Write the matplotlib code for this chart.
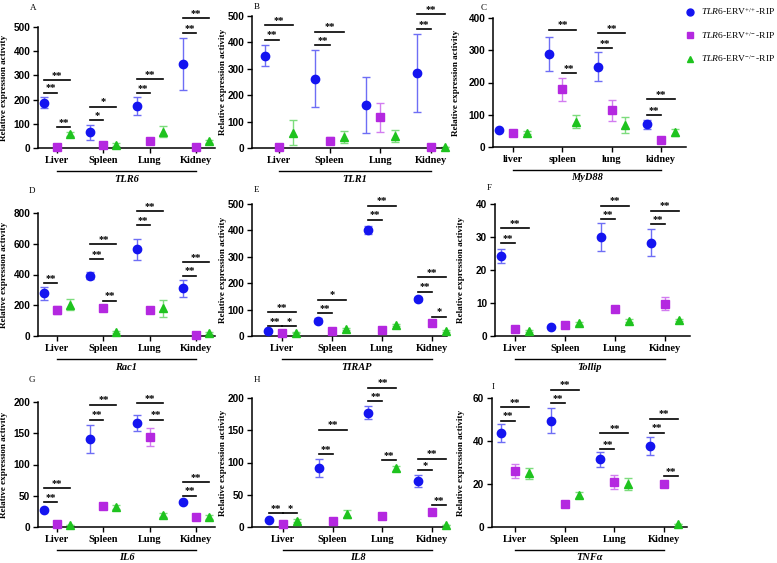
import matplotlib
matplotlib.use('Agg')
import matplotlib.pyplot as plt
from matplotlib.lines import Line2D
import matplotlib.transforms as mtransforms

plt.rcParams['font.family'] = ['Liberation Serif', 'DejaVu Serif']
plt.rcParams['mathtext.fontset'] = 'custom'
plt.rcParams['mathtext.rm'] = 'Liberation Serif'
plt.rcParams['mathtext.it'] = 'Liberation Serif:italic'
plt.rcParams['mathtext.bf'] = 'Liberation Serif:bold'

#%%
###### DATA #############################
cats = ['Liver', 'Spleen', 'Lung', 'Kidney']
cats_c = ['liver', 'spleen', 'lung', 'kidney']
cats_d = ['Liver', 'Spleen', 'Lung', 'Kindey']
groups = [r'$\mathit{TLR6}$-ERV$^{+/+}$-RIP',
          r'$\mathit{TLR6}$-ERV$^{+/-}$-RIP',
          r'$\mathit{TLR6}$-ERV$^{-/-}$-RIP']

# each gene: means [wt, het, ko], errors [wt, het, ko], significance (tissue, from, to, height, stars)
tlr6_mean = [[187, 65, 172, 348], [5, 12, 27, 5], [58, 14, 67, 27]]
tlr6_err = [[22, 30, 37, 107], [0, 0, 0, 0], [8, 7, 22, 7]]
tlr6_sig = [(0, 0, 1, 228, '**'), (0, 0, 2, 281, '**'), (0, 1, 2, 87, '**'),
            (1, 0, 1, 115, '*'), (1, 0, 2, 170, '*'),
            (2, 0, 1, 226, '**'), (2, 0, 2, 284, '**'),
            (3, 0, 1, 475, '**'), (3, 0, 2, 536, '**')]

tlr1_mean = [[350, 263, 163, 283], [3, 28, 117, 3], [58, 42, 45, 2]]
tlr1_err = [[41, 107, 107, 147], [0, 13, 55, 0], [47, 22, 22, 0]]
tlr1_sig = [(0, 0, 1, 410, '**'), (0, 0, 2, 465, '**'),
            (1, 0, 1, 390, '**'), (1, 0, 2, 440, '**'),
            (3, 0, 1, 450, '**'), (3, 0, 2, 507, '**')]

myd88_mean = [[54, 288, 249, 71], [44, 179, 114, 21], [44, 78, 68, 45]]
myd88_err = [[0, 52, 45, 14], [0, 35, 32, 0], [5, 20, 26, 10]]
myd88_sig = [(1, 0, 2, 364, '**'), (1, 1, 2, 229, '**'),
             (2, 0, 1, 306, '**'), (2, 0, 2, 353, '**'),
             (3, 0, 1, 99, '**'), (3, 0, 2, 149, '**')]

rac1_mean = [[277, 392, 564, 309], [168, 181, 170, 5], [203, 25, 181, 20]]
rac1_err = [[44, 24, 68, 58], [27, 15, 0, 0], [35, 8, 55, 8]]
rac1_sig = [(0, 0, 1, 344, '**'),
            (1, 0, 1, 501, '**'), (1, 0, 2, 599, '**'), (1, 1, 2, 229, '**'),
            (2, 0, 1, 719, '**'), (2, 0, 2, 810, '**'),
            (3, 0, 1, 392, '**'), (3, 0, 2, 479, '**')]

tirap_mean = [[19, 58, 400, 139], [10, 20, 23, 51], [13, 27, 42, 19]]
tirap_err = [[0, 10, 15, 8], [0, 0, 0, 0], [3, 5, 4, 4]]
tirap_sig = [(0, 0, 1, 38, '**'), (0, 0, 2, 90, '**'), (0, 1, 2, 38, '*'),
             (1, 0, 1, 86, '**'), (1, 0, 2, 137, '*'),
             (2, 0, 1, 440, '**'), (2, 0, 2, 494, '**'),
             (3, 0, 1, 168, '**'), (3, 0, 2, 222, '**'), (3, 1, 2, 73, '*')]

tollip_mean = [[24.2, 2.7, 30.0, 28.3], [2.0, 3.2, 8.2, 9.8], [1.5, 3.8, 4.6, 4.9]]
tollip_err = [[2.2, 0, 4.1, 4.0], [0, 0, 0, 1.9], [0.3, 0.5, 0.5, 0.4]]
tollip_sig = [(0, 0, 1, 28.2, '**'), (0, 0, 2, 32.6, '**'),
              (2, 0, 1, 35.4, '**'), (2, 0, 2, 39.5, '**'),
              (3, 0, 1, 33.9, '**'), (3, 0, 2, 38.0, '**')]

il6_mean = [[27, 141, 167, 40], [5, 34, 144, 16], [3, 32, 19, 16]]
il6_err = [[0, 22, 13, 0], [0, 0, 14, 0], [0, 3, 3, 3]]
il6_sig = [(0, 0, 1, 40, '**'), (0, 0, 2, 62, '**'),
           (1, 0, 1, 172, '**'), (1, 0, 2, 196, '**'),
           (2, 0, 2, 198, '**'), (2, 1, 2, 172, '**'),
           (3, 0, 1, 50, '**'), (3, 0, 2, 72, '**')]

il8_mean = [[11, 92, 177, 71], [4, 10, 17, 23], [10, 20, 91, 3]]
il8_err = [[0, 14, 10, 9], [0, 0, 0, 0], [2, 6, 4, 0]]
il8_sig = [(0, 0, 1, 21, '**'), (0, 1, 2, 21, '*'),
           (1, 0, 1, 113, '**'), (1, 0, 2, 151, '**'),
           (2, 0, 1, 195, '**'), (2, 0, 2, 216, '**'), (2, 1, 2, 104, '**'),
           (3, 0, 1, 88, '*'), (3, 0, 2, 106, '**'), (3, 1, 2, 34, '**')]

tnfa_mean = [[43.6, 49.5, 31.5, 37.7], [26.2, 10.9, 21.0, 20.2], [24.9, 14.8, 19.9, 1.6]]
tnfa_err = [[4.2, 5.8, 3.4, 4.0], [3.3, 1.0, 3.4, 1.0], [2.6, 1.5, 2.7, 0]]
tnfa_sig = [(0, 0, 1, 49.5, '**'), (0, 0, 2, 55.8, '**'),
            (1, 0, 1, 57.6, '**'), (1, 0, 2, 63.9, '**'),
            (2, 0, 1, 36.3, '**'), (2, 0, 2, 43.6, '**'),
            (3, 0, 1, 43.9, '**'), (3, 0, 2, 50.3, '**'), (3, 1, 2, 23.7, '**')]

#%%
###### STYLE #######
W, H = 777, 563
colors = ['#1414f0', '#b428e0', '#1ec31e']
ecolors = ['#6e6ef5', '#d27cf0', '#7ddc7d']
markers = ['o', 's', '^']
msizes = [6, 5.5, 5.5]
offsets = [-0.28, 0.0, 0.28]


def draw_panel(box, ticks_px, ylim, step, mean, err, sig, labels, gene, letter, letter_xy, ylab_x):
    left, right, top, bottom = box
    ax = fig.add_axes([left / W, 1 - bottom / H, (right - left) / W, (bottom - top) / H])
    k0, k3 = ticks_px
    s = (k3 - k0) / 3
    ax.set_xlim((left - k0) / s, (right - k0) / s)
    ax.set_ylim(0, ylim)

    for g in range(3):
        xs = [i + offsets[g] for i in range(4)]
        ax.errorbar(xs, mean[g], yerr=err[g], fmt='none', ecolor=ecolors[g],
                    elinewidth=1.0, capsize=3, capthick=1.0, zorder=2, clip_on=False)
        ax.plot(xs, mean[g], ls='none', marker=markers[g], ms=msizes[g],
                color=colors[g], zorder=3, clip_on=False)

    for t, a, b, y, lab in sig:
        ax.plot([t + offsets[a], t + offsets[b]], [y, y], color='black', lw=1.2, clip_on=False)
        ax.annotate(lab, ((t + offsets[a] + t + offsets[b]) / 2, y), xytext=(0, 3.5),
                    textcoords='offset points', ha='center', va='center',
                    fontsize=7.5, fontweight='bold', annotation_clip=False)

    ax.spines['top'].set_visible(False)
    ax.spines['right'].set_visible(False)
    ax.spines['left'].set_linewidth(1.1)
    ax.spines['bottom'].set_linewidth(1.1)
    ax.set_xticks(range(4))
    ax.set_xticklabels(labels, fontsize=7.5, fontweight='bold')
    yt = [step * i for i in range(int(round(ylim / step)) + 1)]
    ax.set_yticks(yt)
    ax.set_yticklabels([f'{v:g}' for v in yt], fontsize=7.2, fontweight='bold',
                       family='Liberation Sans')
    ax.tick_params(axis='both', length=3.5, width=1.0, pad=2)

    ax.set_ylabel('Relative expression activity', fontsize=6.6, fontweight='bold')
    ax.yaxis.set_label_coords((ylab_x - left) / (right - left), 0.5)

    h = bottom - top
    trans = mtransforms.blended_transform_factory(ax.transData, ax.transAxes)
    ax.plot([0, 3], [-23 / h, -23 / h], color='black', lw=1.0, transform=trans, clip_on=False)
    ax.text(1.5, -31 / h, gene, transform=trans, ha='center', va='center',
            fontsize=7.5, fontweight='bold', fontstyle='italic')
    fig.text(letter_xy[0] / W, 1 - letter_xy[1] / H, letter, fontsize=6.5,
             ha='center', va='center')
    return ax


fig = plt.figure(figsize=(W / 100, H / 100), dpi=100)

draw_panel((38, 215, 27, 148), (57, 196), 500, 100, tlr6_mean, tlr6_err, tlr6_sig,
           cats, 'TLR6', 'A', (33, 8), 8)
draw_panel((252, 447, 16, 148), (279, 431), 500, 100, tlr1_mean, tlr1_err, tlr1_sig,
           cats, 'TLR1', 'B', (257, 7), 227)
draw_panel((493, 686, 18, 147), (513, 661), 400, 100, myd88_mean, myd88_err, myd88_sig,
           cats_c, 'MyD88', 'C', (484, 8), 460)

draw_panel((38, 215, 213, 336), (57, 196), 800, 200, rac1_mean, rac1_err, rac1_sig,
           cats_d, 'Rac1', 'D', (32, 191), 8)
draw_panel((252, 447, 204, 336), (282, 432), 500, 100, tirap_mean, tirap_err, tirap_sig,
           cats, 'TIRAP', 'E', (257, 190), 227)
draw_panel((495, 690, 204, 336), (515, 665), 40, 10, tollip_mean, tollip_err, tollip_sig,
           cats, 'Tollip', 'F', (489, 188), 465)

draw_panel((38, 215, 402, 527), (57, 196), 200, 50, il6_mean, il6_err, il6_sig,
           cats, 'IL6', 'G', (32, 380), 8)
draw_panel((252, 447, 398, 527), (283, 432), 200, 50, il8_mean, il8_err, il8_sig,
           cats, 'IL8', 'H', (257, 380), 227)
draw_panel((492, 687, 398, 527), (515, 664), 60, 20, tnfa_mean, tnfa_err, tnfa_sig,
           cats, 'TNF\u03b1', 'I', (493, 387), 465)

handles = [Line2D([], [], ls='none', marker=markers[g], ms=msizes[g] - 1, color=colors[g])
           for g in range(3)]
fig.legend(handles, groups, loc='upper left', bbox_to_anchor=(686 / W, 1 - 6 / H),
           frameon=False, fontsize=6.8, handlelength=0.9, handletextpad=0.7,
           labelspacing=1.35, borderaxespad=0, borderpad=0)

fig.savefig('out.png', dpi=100)
